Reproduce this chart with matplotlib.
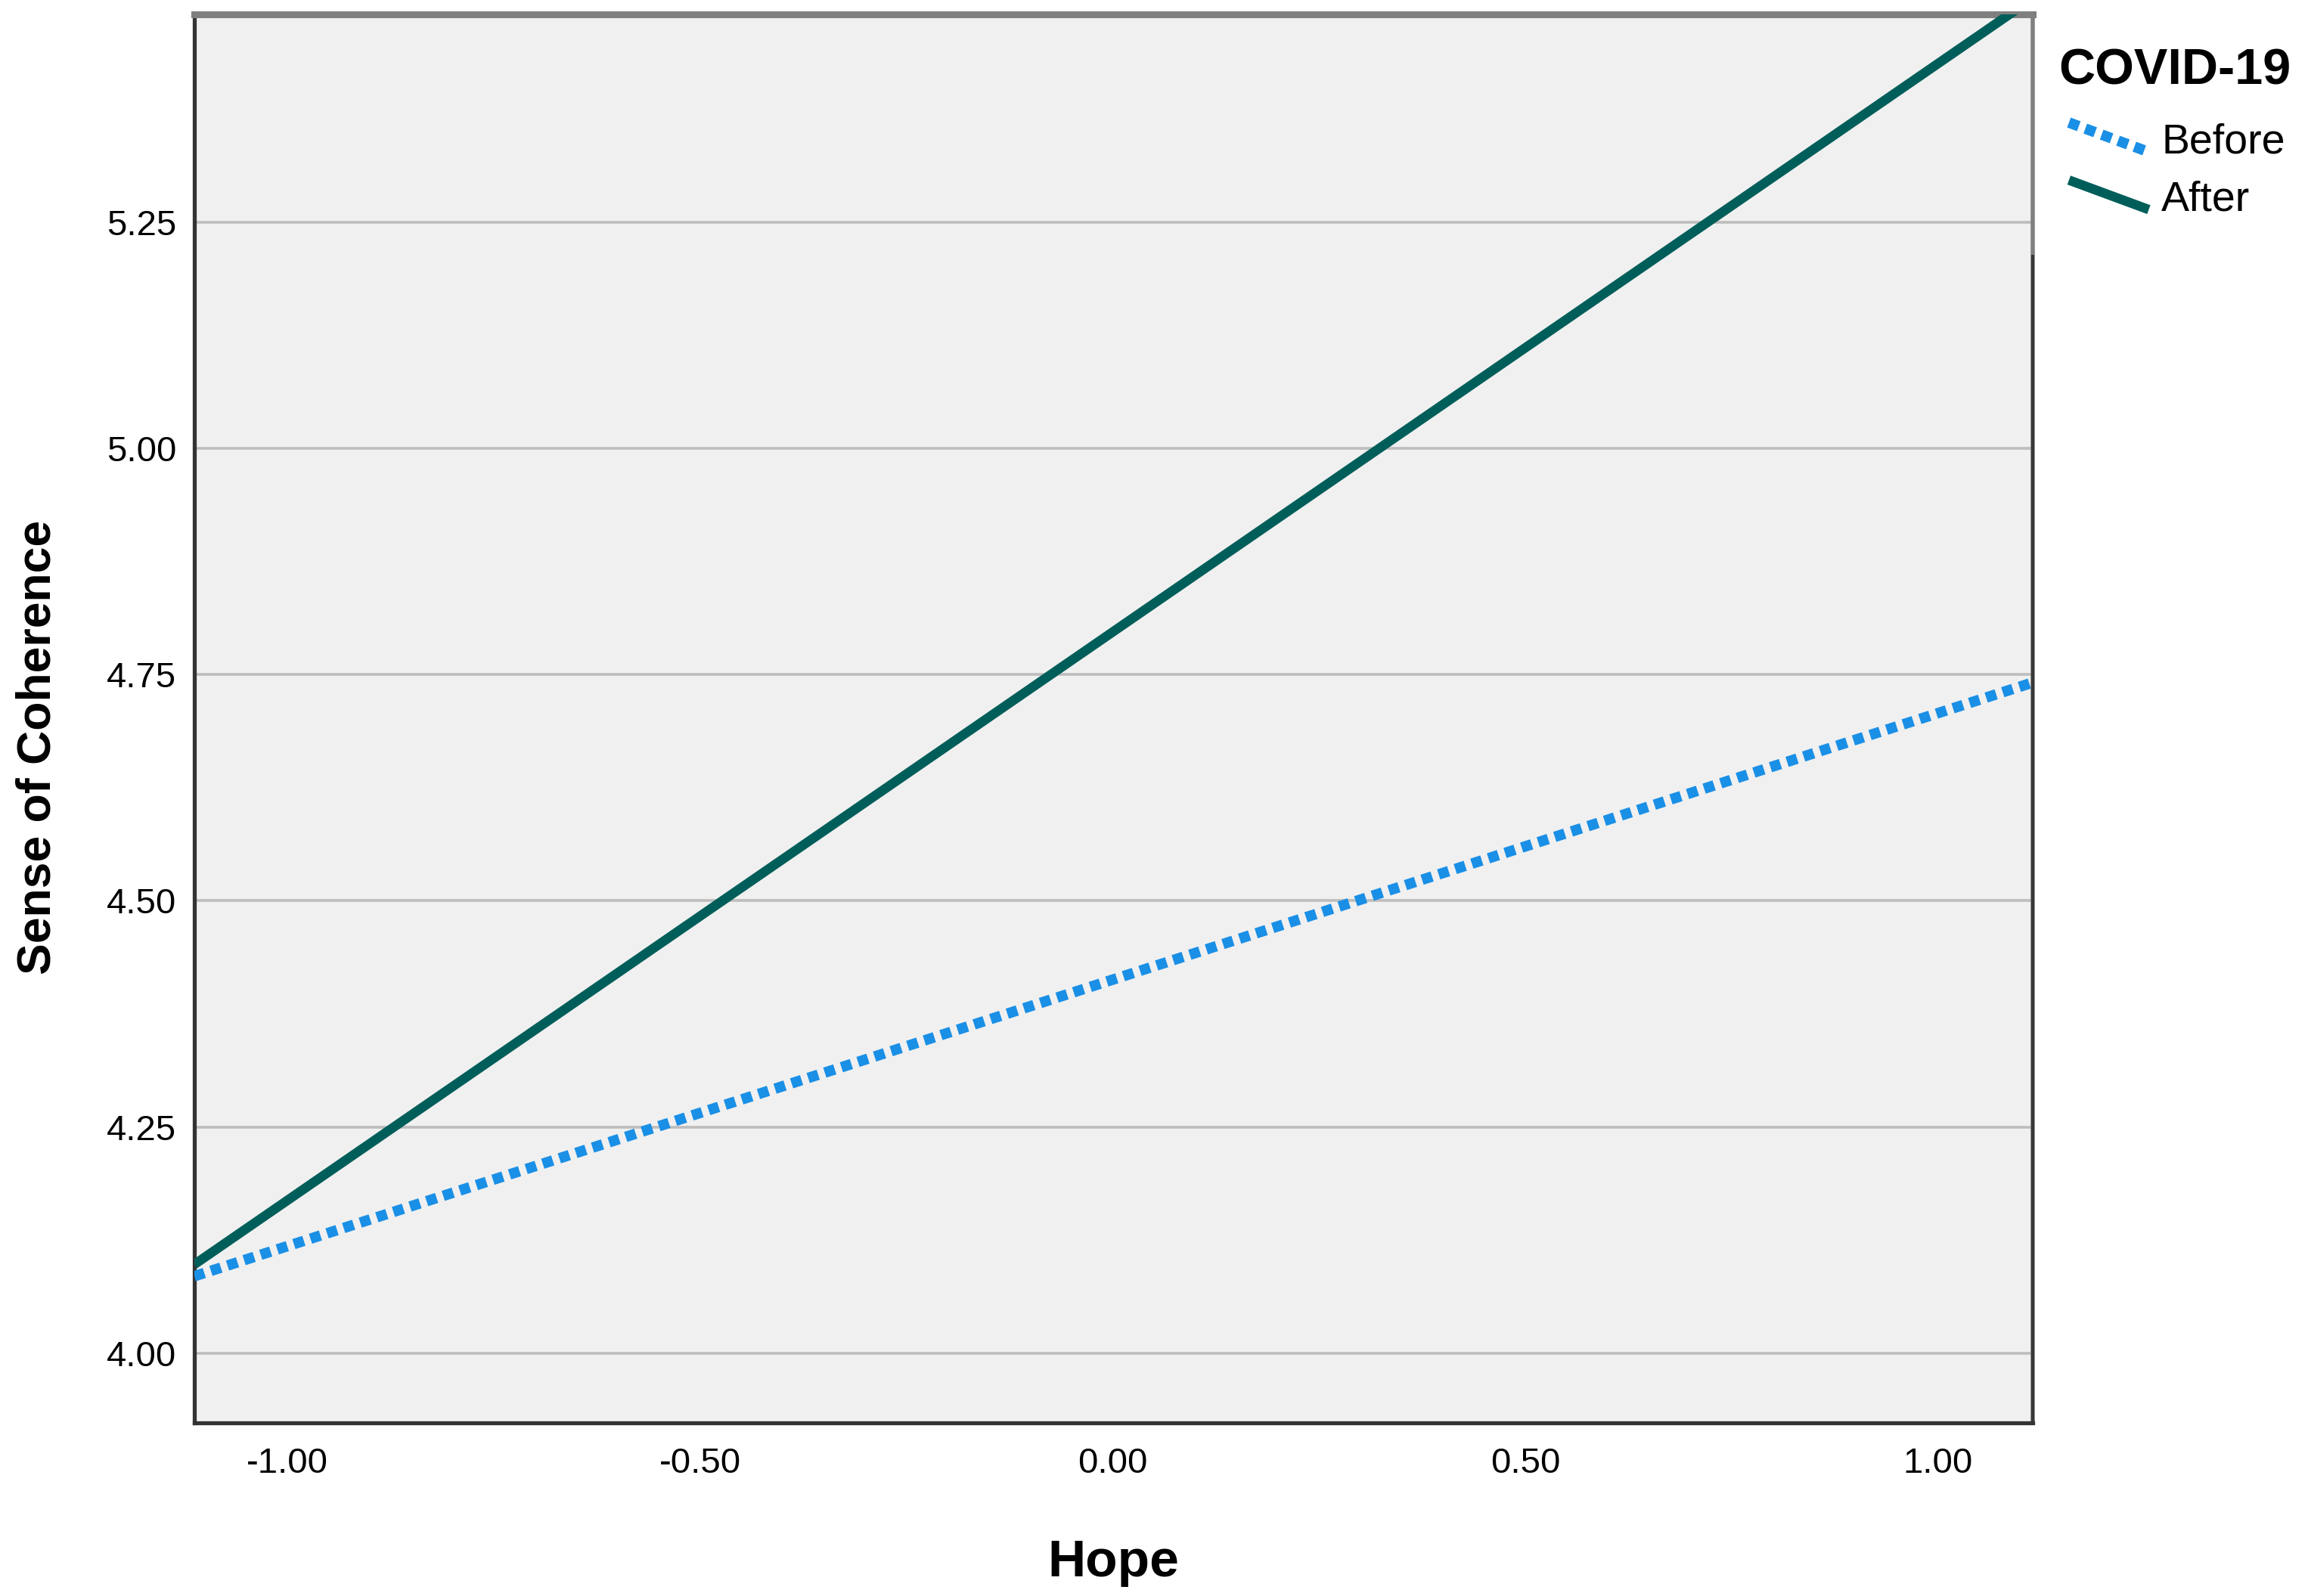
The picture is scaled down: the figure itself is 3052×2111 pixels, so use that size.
# Sense of Coherence vs Hope, before / after COVID-19 (SPSS style line chart)
import matplotlib
matplotlib.use('Agg')
import matplotlib.pyplot as plt
from matplotlib.lines import Line2D
from matplotlib.legend_handler import HandlerLine2D

plt.rcParams['font.family'] = ['Liberation Sans', 'DejaVu Sans']

# Data (fitted lines at the ends of the Hope range)
hope = [-1.113, 1.115]
before = [4.085, 4.741]
after = [4.098, 5.497]
series_names = ['Before', 'After']

x_ticks = [-1.0, -0.5, 0.0, 0.5, 1.0]
x_tick_labels = ['-1.00', '-0.50', '0.00', '0.50', '1.00']
y_ticks = [4.00, 4.25, 4.50, 4.75, 5.00, 5.25]
y_tick_labels = ['4.00', '4.25', '4.50', '4.75', '5.00', '5.25']


# Legend keys drawn as a diagonal stroke, as SPSS does
class DiagonalHandler(HandlerLine2D):
    def create_artists(self, legend, orig_handle, xdescent, ydescent,
                       width, height, fontsize, trans):
        line = Line2D([-xdescent + 10, -xdescent + width],
                      [-ydescent + height, -ydescent + 2])
        self.update_prop(line, orig_handle, legend)
        line.set_transform(trans)
        return [line]


fig = plt.figure(figsize=(30.52, 21.11), dpi=100)
ax = fig.add_axes([0.0842, 0.1085, 0.7965, 0.8823])
ax.set_facecolor('#F0F0F0')

# Lines
line_before, = ax.plot(hope, before, color='#1A8FE6', lw=10,
                       dashes=(1, 0.66), dash_capstyle='butt',
                       solid_capstyle='butt', zorder=3)
line_after, = ax.plot(hope, after, color='#005E5A', lw=9,
                      solid_capstyle='butt', zorder=4)

ax.set_xlim(-1.113, 1.115)
ax.set_ylim(3.923, 5.479)

ax.set_xticks(x_ticks)
ax.set_xticklabels(x_tick_labels)
ax.set_yticks(y_ticks)
ax.set_yticklabels(y_tick_labels)
ax.tick_params(axis='both', length=0, labelsize=34, colors='black')
ax.tick_params(axis='x', pad=23)
ax.tick_params(axis='y', pad=17)

ax.yaxis.grid(True, color='#BDBDBD', lw=2.6)
ax.set_axisbelow(True)

# Frame
for side in ['left', 'bottom']:
    ax.spines[side].set_color('#333333')
    ax.spines[side].set_linewidth(3.8)
ax.spines['top'].set_color('#7F7F7F')
ax.spines['top'].set_linewidth(6.5)
ax.spines['right'].set_color('#808080')
ax.spines['right'].set_linewidth(4)
# darker part of the right border below the legend
ax.plot([1, 1], [0, 0.8295], transform=ax.transAxes, color='#383838',
        lw=3, clip_on=False, zorder=5, solid_capstyle='butt')

# Axis titles
ax.set_xlabel('Hope', fontsize=50, fontweight='bold', va='baseline')
ax.xaxis.set_label_coords(0.5, -0.109)
ax.set_ylabel('Sense of Coherence', fontsize=45, fontweight='bold',
              va='baseline')
ax.yaxis.set_label_coords(-0.0785, 0.4795)

# Legend
leg = ax.legend([line_before, line_after], series_names, title='COVID-19',
                loc='upper left', bbox_to_anchor=(2722 / 3052, 1 - 64 / 2111),
                bbox_transform=fig.transFigure, frameon=False, fontsize=40,
                title_fontproperties={'weight': 'bold', 'size': 48},
                handlelength=2.15, handleheight=0.78, handletextpad=0.3,
                labelspacing=0.43, borderpad=0, borderaxespad=0,
                alignment='left', handler_map={Line2D: DiagonalHandler()})
# wider gap between the legend title and its entries
leg._legend_box.sep = 26

fig.savefig('out.png', dpi=100, facecolor='white')
